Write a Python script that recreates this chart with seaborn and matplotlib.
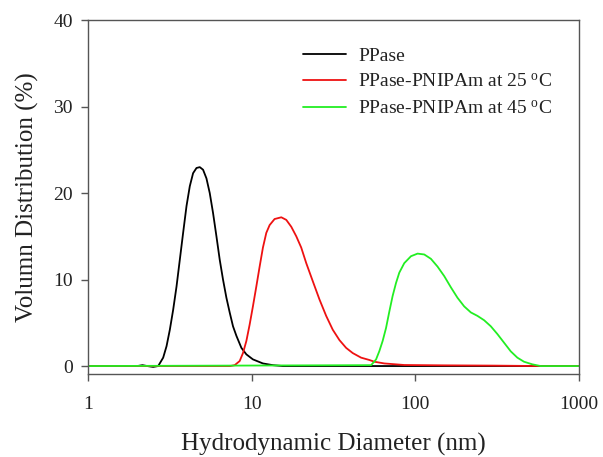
import numpy as np
import pandas as pd
import matplotlib
matplotlib.use("Agg")
import matplotlib.pyplot as plt
import seaborn as sns
from matplotlib.ticker import FixedLocator, FixedFormatter

# Particle-size distributions (hydrodynamic diameter in nm, volume %)
ppase_d = [1.0, 2.0, 2.15, 2.3, 2.5, 2.684, 2.879, 3.019, 3.162, 3.313, 3.474,
           3.639, 3.812, 3.998, 4.188, 4.386, 4.601, 4.819, 5.047, 5.293, 5.545,
           5.808, 6.092, 6.380, 6.683, 7.009, 7.341, 7.691, 8.066, 8.656, 9.284,
           10.18, 11.72, 13.49, 15.5, 1000.0]
ppase_v = [0.0, 0.0, 0.1, 0.0, -0.1, 0.0, 0.97, 2.3, 4.2, 6.5, 9.2,
           12.3, 15.4, 18.5, 20.8, 22.3, 22.9, 23.0, 22.7, 21.7, 20.0,
           17.7, 15.0, 12.3, 10.0, 7.9, 6.2, 4.6, 3.5, 2.1, 1.35,
           0.77, 0.3, 0.1, 0.0, 0.0]

p25_d = [1.0, 7.4, 7.876, 8.450, 8.851, 9.284, 9.723, 10.18, 10.68, 11.19,
         11.72, 12.29, 12.88, 13.81, 15.18, 16.28, 17.47, 18.74, 20.09, 21.56,
         23.65, 25.97, 28.54, 31.31, 34.40, 37.80, 41.47, 46.66, 52.43, 56.2,
         64.7, 85.7, 150.0, 300.0, 570.0, 1000.0]
p25_v = [0.0, 0.0, 0.1, 0.58, 1.5, 2.9, 4.8, 6.9, 9.2, 11.5,
         13.7, 15.4, 16.3, 17.0, 17.2, 16.9, 16.1, 15.0, 13.7, 11.9,
         9.8, 7.7, 5.8, 4.2, 3.0, 2.1, 1.5, 0.97, 0.7, 0.5,
         0.3, 0.12, 0.08, 0.05, 0.0, 0.0]

p45_d = [1.0, 53.70, 57.61, 60.33, 63.19, 66.27, 69.42, 72.71, 76.26, 79.88,
         85.68, 94.15, 103.3, 113.5, 124.6, 136.8, 150.3, 165.1, 181.1, 199.0,
         218.6, 239.9, 263.4, 289.4, 317.6, 348.9, 383.3, 420.7, 461.9, 519.0,
         584.1, 1000.0]
p45_v = [0.0, 0.1, 0.77, 1.73, 2.9, 4.4, 6.3, 8.1, 9.6, 10.8,
         11.9, 12.7, 13.0, 12.9, 12.4, 11.5, 10.4, 9.1, 7.9, 6.9,
         6.2, 5.8, 5.3, 4.6, 3.7, 2.7, 1.7, 0.97, 0.5, 0.2,
         0.0, 0.0]

series_names = ["PPase", "PPase-PNIPAm at 25 $^{\\mathrm{o}}$C",
                "PPase-PNIPAm at 45 $^{\\mathrm{o}}$C"]
series_colors = ["#000000", "#ee1111", "#22ee22"]

x_ticks = [1, 10, 100, 1000]
x_tick_labels = ["1", "10", "100", "1000"]
y_ticks = [0, 10, 20, 30, 40]

frames = []
for name, d, v in zip(series_names, [ppase_d, p25_d, p45_d], [ppase_v, p25_v, p45_v]):
    frames.append(pd.DataFrame({"diameter": d, "volume": v, "sample": name}))
df = pd.concat(frames, ignore_index=True)

sns.set_style("ticks")
plt.rcParams["font.family"] = ["Liberation Serif", "DejaVu Serif"]
plt.rcParams["mathtext.fontset"] = "custom"
plt.rcParams["mathtext.rm"] = "Liberation Serif"
plt.rcParams["mathtext.it"] = "Liberation Serif:italic"

fig = plt.figure(figsize=(6.03, 4.57), dpi=100)
ax = fig.add_axes([0.146, 0.182, 0.814, 0.774])

sns.lineplot(data=df, x="diameter", y="volume", hue="sample",
             hue_order=series_names, palette=dict(zip(series_names, series_colors)),
             linewidth=1.3, ax=ax, estimator=None, sort=False)

ax.set_xscale("log")
ax.set_xlim(1, 1000)
ax.set_ylim(-0.9, 40)
ax.xaxis.set_major_locator(FixedLocator(x_ticks))
ax.xaxis.set_major_formatter(FixedFormatter(x_tick_labels))
ax.xaxis.set_minor_locator(FixedLocator([]))
ax.set_yticks(y_ticks)

spine_color = "#555555"
for s in ax.spines.values():
    s.set_visible(True)
    s.set_color(spine_color)
    s.set_linewidth(1.0)
ax.tick_params(axis="both", which="major", direction="out", length=5,
               width=1.0, color=spine_color, labelsize=14, labelcolor="#222222",
               top=False, right=False)
ax.tick_params(axis="x", pad=11)
ax.tick_params(axis="y", pad=6)

ax.set_xlabel("Hydrodynamic Diameter (nm)", fontsize=18, color="#222222", labelpad=14)
ax.set_ylabel("Volumn Distribution (%)", fontsize=18, color="#222222", labelpad=10)

leg = ax.legend(loc="upper left", bbox_to_anchor=(0.422, 0.946), frameon=False,
                fontsize=14, handlelength=2.2, handletextpad=0.65, labelspacing=0.45,
                borderaxespad=0.0)
for t in leg.get_texts():
    t.set_color("#222222")

fig.savefig("out.png", dpi=100)
